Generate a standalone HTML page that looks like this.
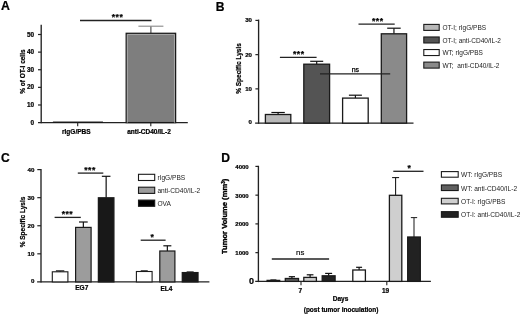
<!DOCTYPE html>
<html><head><meta charset="utf-8"><style>
html,body{margin:0;padding:0;background:#fff;width:520px;height:315px;overflow:hidden}
svg{display:block;will-change:transform;filter:blur(0.3px)}
text{font-family:"Liberation Sans", sans-serif}
</style></head><body>
<svg width="520" height="315" viewBox="0 0 520 315">
<rect width="520" height="315" fill="#fff"/>
<text x="0.9" y="9.6" font-size="12.3" font-weight="bold" text-anchor="start" fill="#000" stroke="#000" stroke-width="0.22">A</text>
<line x1="41.2" y1="24.8" x2="41.2" y2="123.3" stroke="#222" stroke-width="1.35"/>
<line x1="38" y1="122.6" x2="187.8" y2="122.6" stroke="#222" stroke-width="1.35"/>
<line x1="38" y1="104.98" x2="41.2" y2="104.98" stroke="#222" stroke-width="1.2"/>
<line x1="38" y1="87.36" x2="41.2" y2="87.36" stroke="#222" stroke-width="1.2"/>
<line x1="38" y1="69.74" x2="41.2" y2="69.74" stroke="#222" stroke-width="1.2"/>
<line x1="38" y1="52.12" x2="41.2" y2="52.12" stroke="#222" stroke-width="1.2"/>
<line x1="38" y1="34.5" x2="41.2" y2="34.5" stroke="#222" stroke-width="1.2"/>
<text x="34.0" y="124.6" font-size="6.4" font-weight="bold" text-anchor="end" fill="#000" stroke="#000" stroke-width="0.22">0</text>
<text x="34.0" y="106.98" font-size="6.4" font-weight="bold" text-anchor="end" fill="#000" stroke="#000" stroke-width="0.22">10</text>
<text x="34.0" y="89.36" font-size="6.4" font-weight="bold" text-anchor="end" fill="#000" stroke="#000" stroke-width="0.22">20</text>
<text x="34.0" y="71.74" font-size="6.4" font-weight="bold" text-anchor="end" fill="#000" stroke="#000" stroke-width="0.22">30</text>
<text x="34.0" y="54.12" font-size="6.4" font-weight="bold" text-anchor="end" fill="#000" stroke="#000" stroke-width="0.22">40</text>
<text x="34.0" y="36.5" font-size="6.4" font-weight="bold" text-anchor="end" fill="#000" stroke="#000" stroke-width="0.22">50</text>
<text x="24.7" y="71.6" font-size="6.5" font-weight="bold" text-anchor="middle" fill="#000" stroke="#000" stroke-width="0.22" transform="rotate(-90 24.7 71.6)">% of OT-I cells</text>
<rect x="53.2" y="121.9" width="49.5" height="0.7" fill="#111" stroke="#1a1a1a" stroke-width="0.6"/>
<line x1="150.9" y1="33.3" x2="150.9" y2="26.2" stroke="#444" stroke-width="1.1"/>
<line x1="138.4" y1="26.2" x2="163.4" y2="26.2" stroke="#888" stroke-width="1.1"/>
<rect x="126.2" y="33.3" width="49.4" height="89.3" fill="#7e7e7e" stroke="#1a1a1a" stroke-width="1.3"/>
<path d="M127.35 122.6V34.45H174.45V122.6" fill="none" stroke="#a8a8a8" stroke-width="1"/>
<line x1="77.7" y1="122.6" x2="77.7" y2="126.2" stroke="#222" stroke-width="1.1"/>
<line x1="150.8" y1="122.6" x2="150.8" y2="126.2" stroke="#222" stroke-width="1.1"/>
<text x="76.3" y="134.0" font-size="6.5" font-weight="bold" text-anchor="middle" fill="#000" stroke="#000" stroke-width="0.22">rIgG/PBS</text>
<text x="149" y="134.0" font-size="6.5" font-weight="bold" text-anchor="middle" fill="#000" stroke="#000" stroke-width="0.22">anti-CD40/IL-2</text>
<line x1="80" y1="20.5" x2="151.5" y2="20.5" stroke="#222" stroke-width="1.3"/>
<text x="117.55" y="19.7" font-size="8.6" font-weight="bold" text-anchor="middle" fill="#000" stroke="#000" stroke-width="0.22" letter-spacing="0.5">***</text>
<text x="215.8" y="10.8" font-size="12.1" font-weight="bold" text-anchor="start" fill="#000" stroke="#000" stroke-width="0.22">B</text>
<line x1="258.6" y1="19.6" x2="258.6" y2="123.8" stroke="#222" stroke-width="1.35"/>
<line x1="255.1" y1="123.1" x2="413.5" y2="123.1" stroke="#222" stroke-width="1.35"/>
<line x1="255.4" y1="88.87" x2="258.6" y2="88.87" stroke="#222" stroke-width="1.2"/>
<line x1="255.4" y1="54.64" x2="258.6" y2="54.64" stroke="#222" stroke-width="1.2"/>
<line x1="255.4" y1="20.41" x2="258.6" y2="20.41" stroke="#222" stroke-width="1.2"/>
<text x="252.0" y="124.1" font-size="6.1" font-weight="bold" text-anchor="end" fill="#000" stroke="#000" stroke-width="0.22">0</text>
<text x="252.0" y="90.77" font-size="6.1" font-weight="bold" text-anchor="end" fill="#000" stroke="#000" stroke-width="0.22">10</text>
<text x="252.0" y="56.54" font-size="6.1" font-weight="bold" text-anchor="end" fill="#000" stroke="#000" stroke-width="0.22">20</text>
<text x="252.0" y="22.31" font-size="6.1" font-weight="bold" text-anchor="end" fill="#000" stroke="#000" stroke-width="0.22">30</text>
<text x="241.2" y="68.5" font-size="6.5" font-weight="bold" text-anchor="middle" fill="#000" stroke="#000" stroke-width="0.22" transform="rotate(-90 241.2 68.5)">% Specific Lysis</text>
<line x1="278.1" y1="114.5" x2="278.1" y2="112.5" stroke="#111" stroke-width="1.2"/>
<line x1="271.4" y1="112.5" x2="284.8" y2="112.5" stroke="#111" stroke-width="1.2"/>
<rect x="265.4" y="114.5" width="25.4" height="8.6" fill="#b8b8b8" stroke="#1a1a1a" stroke-width="1.3"/>
<line x1="316.7" y1="64.2" x2="316.7" y2="61.3" stroke="#111" stroke-width="1.2"/>
<line x1="310.2" y1="61.3" x2="323.2" y2="61.3" stroke="#111" stroke-width="1.2"/>
<rect x="303.8" y="64.2" width="25.8" height="58.9" fill="#545454" stroke="#1a1a1a" stroke-width="1.3"/>
<line x1="355.4" y1="98.1" x2="355.4" y2="95.2" stroke="#111" stroke-width="1.2"/>
<line x1="348.9" y1="95.2" x2="361.9" y2="95.2" stroke="#111" stroke-width="1.2"/>
<rect x="342.6" y="98.1" width="25.6" height="25.0" fill="#fff" stroke="#1a1a1a" stroke-width="1.3"/>
<line x1="393.95" y1="33.8" x2="393.95" y2="28.2" stroke="#111" stroke-width="1.2"/>
<line x1="387.2" y1="28.2" x2="400.7" y2="28.2" stroke="#111" stroke-width="1.2"/>
<rect x="381.3" y="33.8" width="25.3" height="89.3" fill="#8a8a8a" stroke="#1a1a1a" stroke-width="1.3"/>
<line x1="279.9" y1="57.3" x2="316.6" y2="57.3" stroke="#222" stroke-width="1.3"/>
<text x="298.75" y="56.7" font-size="8.6" font-weight="bold" text-anchor="middle" fill="#000" stroke="#000" stroke-width="0.22" letter-spacing="0.5">***</text>
<line x1="320" y1="73.8" x2="390.2" y2="73.8" stroke="#222" stroke-width="1.3"/>
<text x="355.4" y="71.8" font-size="7" font-weight="normal" text-anchor="middle" fill="#000" stroke="#000" stroke-width="0.25">ns</text>
<line x1="358.5" y1="24.2" x2="394.7" y2="24.2" stroke="#222" stroke-width="1.3"/>
<text x="377.75" y="23.9" font-size="8.6" font-weight="bold" text-anchor="middle" fill="#000" stroke="#000" stroke-width="0.22" letter-spacing="0.5">***</text>
<rect x="423.8" y="24.4" width="15.4" height="6.0" fill="#b8b8b8" stroke="#1a1a1a" stroke-width="1.1"/>
<text x="442.4" y="30.3" font-size="6.5" font-weight="normal" text-anchor="start" fill="#222">OT-I; rIgG/PBS</text>
<rect x="423.8" y="36.97" width="15.4" height="6.0" fill="#545454" stroke="#1a1a1a" stroke-width="1.1"/>
<text x="442.4" y="42.87" font-size="6.5" font-weight="normal" text-anchor="start" fill="#222">OT-I; anti-CD40/IL-2</text>
<rect x="423.8" y="49.54" width="15.4" height="6.0" fill="#fff" stroke="#1a1a1a" stroke-width="1.1"/>
<text x="442.4" y="55.44" font-size="6.5" font-weight="normal" text-anchor="start" fill="#222">WT; rIgG/PBS</text>
<rect x="423.8" y="62.11" width="15.4" height="6.0" fill="#8a8a8a" stroke="#1a1a1a" stroke-width="1.1"/>
<text x="442.4" y="68.01" font-size="6.5" font-weight="normal" text-anchor="start" fill="#222">WT;&#160; anti-CD40/IL-2</text>
<text x="0.9" y="161.9" font-size="12.1" font-weight="bold" text-anchor="start" fill="#000" stroke="#000" stroke-width="0.22">C</text>
<line x1="41.0" y1="168.9" x2="41.0" y2="282.6" stroke="#222" stroke-width="1.35"/>
<line x1="37.1" y1="281.9" x2="209.4" y2="281.9" stroke="#222" stroke-width="1.35"/>
<line x1="37.3" y1="253.82" x2="41.0" y2="253.82" stroke="#222" stroke-width="1.2"/>
<line x1="37.3" y1="225.75" x2="41.0" y2="225.75" stroke="#222" stroke-width="1.2"/>
<line x1="37.3" y1="197.67" x2="41.0" y2="197.67" stroke="#222" stroke-width="1.2"/>
<line x1="37.3" y1="169.6" x2="41.0" y2="169.6" stroke="#222" stroke-width="1.2"/>
<text x="34.4" y="283.0" font-size="6.2" font-weight="bold" text-anchor="end" fill="#000" stroke="#000" stroke-width="0.22">0</text>
<text x="34.4" y="255.92" font-size="6.2" font-weight="bold" text-anchor="end" fill="#000" stroke="#000" stroke-width="0.22">10</text>
<text x="34.4" y="227.85" font-size="6.2" font-weight="bold" text-anchor="end" fill="#000" stroke="#000" stroke-width="0.22">20</text>
<text x="34.4" y="199.77" font-size="6.2" font-weight="bold" text-anchor="end" fill="#000" stroke="#000" stroke-width="0.22">30</text>
<text x="34.4" y="171.7" font-size="6.2" font-weight="bold" text-anchor="end" fill="#000" stroke="#000" stroke-width="0.22">40</text>
<text x="25.4" y="222" font-size="6.5" font-weight="bold" text-anchor="middle" fill="#000" stroke="#000" stroke-width="0.22" transform="rotate(-90 25.4 222)">% Specific Lysis</text>
<line x1="60.1" y1="271.8" x2="60.1" y2="270.9" stroke="#111" stroke-width="1.2"/>
<line x1="55.9" y1="270.9" x2="64.3" y2="270.9" stroke="#111" stroke-width="1.2"/>
<rect x="52.3" y="271.8" width="15.6" height="10.1" fill="#fff" stroke="#1a1a1a" stroke-width="1.1"/>
<line x1="83.35" y1="227.4" x2="83.35" y2="222.0" stroke="#111" stroke-width="1.2"/>
<line x1="79.0" y1="222.0" x2="87.7" y2="222.0" stroke="#111" stroke-width="1.2"/>
<rect x="75.6" y="227.4" width="15.5" height="54.5" fill="#9c9c9c" stroke="#1a1a1a" stroke-width="1.2"/>
<line x1="106.15" y1="197.8" x2="106.15" y2="176.3" stroke="#111" stroke-width="1.2"/>
<line x1="101.85" y1="176.3" x2="110.45" y2="176.3" stroke="#111" stroke-width="1.2"/>
<rect x="98.4" y="197.8" width="15.5" height="84.1" fill="#181818" stroke="#1a1a1a" stroke-width="1.3"/>
<line x1="144.25" y1="271.5" x2="144.25" y2="270.9" stroke="#111" stroke-width="1.2"/>
<line x1="140.75" y1="270.9" x2="147.75" y2="270.9" stroke="#111" stroke-width="1.2"/>
<rect x="136.4" y="271.5" width="15.7" height="10.4" fill="#fff" stroke="#1a1a1a" stroke-width="1.1"/>
<line x1="167.35" y1="251.0" x2="167.35" y2="245.8" stroke="#111" stroke-width="1.2"/>
<line x1="163.35" y1="245.8" x2="171.35" y2="245.8" stroke="#111" stroke-width="1.2"/>
<rect x="159.8" y="251.0" width="15.1" height="30.9" fill="#9c9c9c" stroke="#1a1a1a" stroke-width="1.2"/>
<line x1="190.15" y1="272.6" x2="190.15" y2="272.0" stroke="#111" stroke-width="1.2"/>
<line x1="186.65" y1="272.0" x2="193.65" y2="272.0" stroke="#111" stroke-width="1.2"/>
<rect x="182.3" y="272.6" width="15.7" height="9.3" fill="#181818" stroke="#1a1a1a" stroke-width="1.3"/>
<text x="81.8" y="289.8" font-size="6.5" font-weight="bold" text-anchor="middle" fill="#000" stroke="#000" stroke-width="0.22">EG7</text>
<text x="166.4" y="291.3" font-size="6.5" font-weight="bold" text-anchor="middle" fill="#000" stroke="#000" stroke-width="0.22">EL4</text>
<line x1="54.6" y1="217.4" x2="80.8" y2="217.4" stroke="#222" stroke-width="1.3"/>
<text x="67.45" y="217.2" font-size="8.6" font-weight="bold" text-anchor="middle" fill="#000" stroke="#000" stroke-width="0.22" letter-spacing="0.5">***</text>
<line x1="77.8" y1="173.1" x2="103.3" y2="173.1" stroke="#222" stroke-width="1.3"/>
<text x="90.05" y="173.1" font-size="8.6" font-weight="bold" text-anchor="middle" fill="#000" stroke="#000" stroke-width="0.22" letter-spacing="0.5">***</text>
<line x1="140.7" y1="240.2" x2="165.6" y2="240.2" stroke="#222" stroke-width="1.3"/>
<text x="152.2" y="239.9" font-size="8.6" font-weight="bold" text-anchor="middle" fill="#000" stroke="#000" stroke-width="0.22">*</text>
<rect x="138.5" y="174.3" width="16.2" height="6.2" fill="#fff" stroke="#1a1a1a" stroke-width="1.1"/>
<text x="157.4" y="179.8" font-size="6.6" font-weight="normal" text-anchor="start" fill="#222">rIgG/PBS</text>
<rect x="138.5" y="187.2" width="16.2" height="6.2" fill="#9c9c9c" stroke="#1a1a1a" stroke-width="1.1"/>
<text x="157.4" y="192.7" font-size="6.6" font-weight="normal" text-anchor="start" fill="#222">anti-CD40/IL-2</text>
<rect x="138.5" y="200.1" width="16.2" height="6.2" fill="#000" stroke="#1a1a1a" stroke-width="1.1"/>
<text x="157.4" y="205.6" font-size="6.6" font-weight="normal" text-anchor="start" fill="#222">OVA</text>
<text x="221.2" y="162.0" font-size="12.1" font-weight="bold" text-anchor="start" fill="#000" stroke="#000" stroke-width="0.22">D</text>
<line x1="258.4" y1="165.8" x2="258.4" y2="282.1" stroke="#222" stroke-width="1.35"/>
<line x1="255.2" y1="281.4" x2="430.9" y2="281.4" stroke="#222" stroke-width="1.35"/>
<line x1="255.4" y1="252.65" x2="258.4" y2="252.65" stroke="#222" stroke-width="1.2"/>
<line x1="255.4" y1="223.9" x2="258.4" y2="223.9" stroke="#222" stroke-width="1.2"/>
<line x1="255.4" y1="195.15" x2="258.4" y2="195.15" stroke="#222" stroke-width="1.2"/>
<line x1="255.4" y1="166.4" x2="258.4" y2="166.4" stroke="#222" stroke-width="1.2"/>
<text x="248.7" y="255.05" font-size="6.0" font-weight="bold" text-anchor="end" fill="#000" stroke="#000" stroke-width="0.22">1000</text>
<text x="248.7" y="226.3" font-size="6.0" font-weight="bold" text-anchor="end" fill="#000" stroke="#000" stroke-width="0.22">2000</text>
<text x="248.7" y="197.55" font-size="6.0" font-weight="bold" text-anchor="end" fill="#000" stroke="#000" stroke-width="0.22">3000</text>
<text x="248.7" y="168.8" font-size="6.0" font-weight="bold" text-anchor="end" fill="#000" stroke="#000" stroke-width="0.22">4000</text>
<text x="253.9" y="284.1" font-size="9" font-weight="bold" text-anchor="end" fill="#000" stroke="#000" stroke-width="0.22">0</text>
<text x="227.0" y="216.4" font-size="7.6" font-weight="bold" text-anchor="middle" fill="#000" stroke="#000" stroke-width="0.35" transform="rotate(-90 227.0 216.4)">Tumor Volume (mm<tspan dy="-2.3" font-size="4.6">3</tspan><tspan dy="2.3">)</tspan></text>
<line x1="301" y1="281.4" x2="301" y2="285.2" stroke="#222" stroke-width="1.1"/>
<line x1="386.8" y1="281.4" x2="386.8" y2="285.2" stroke="#222" stroke-width="1.1"/>
<text x="300.4" y="293.1" font-size="6.5" font-weight="bold" text-anchor="middle" fill="#000" stroke="#000" stroke-width="0.22">7</text>
<text x="385.5" y="293.1" font-size="6.5" font-weight="bold" text-anchor="middle" fill="#000" stroke="#000" stroke-width="0.22">19</text>
<text x="340.5" y="301.3" font-size="6.5" font-weight="bold" text-anchor="middle" fill="#000" stroke="#000" stroke-width="0.22">Days</text>
<text x="341.1" y="311.9" font-size="6.5" font-weight="bold" text-anchor="middle" fill="#000" stroke="#000" stroke-width="0.22">(post tumor inoculation)</text>
<line x1="273.4" y1="280.4" x2="273.4" y2="280" stroke="#111" stroke-width="1.2"/>
<line x1="270.4" y1="280" x2="276.4" y2="280" stroke="#111" stroke-width="1.2"/>
<rect x="267.1" y="280.4" width="12.6" height="1.0" fill="#fff" stroke="#1a1a1a" stroke-width="1.3"/>
<line x1="291.9" y1="278.5" x2="291.9" y2="276.7" stroke="#111" stroke-width="1.2"/>
<line x1="288.8" y1="276.7" x2="295.0" y2="276.7" stroke="#111" stroke-width="1.2"/>
<rect x="285.3" y="278.5" width="13.2" height="2.9" fill="#606060" stroke="#1a1a1a" stroke-width="1.3"/>
<line x1="310.1" y1="277.4" x2="310.1" y2="274.8" stroke="#111" stroke-width="1.2"/>
<line x1="306.75" y1="274.8" x2="313.45" y2="274.8" stroke="#111" stroke-width="1.2"/>
<rect x="303.8" y="277.4" width="12.6" height="4.0" fill="#cfcfcf" stroke="#1a1a1a" stroke-width="1.3"/>
<line x1="328.65" y1="275.8" x2="328.65" y2="273.4" stroke="#111" stroke-width="1.2"/>
<line x1="325.15" y1="273.4" x2="332.15" y2="273.4" stroke="#111" stroke-width="1.2"/>
<rect x="322.2" y="275.8" width="12.9" height="5.6" fill="#222" stroke="#1a1a1a" stroke-width="1.3"/>
<line x1="359.1" y1="270" x2="359.1" y2="267.3" stroke="#111" stroke-width="1.2"/>
<line x1="356.1" y1="267.3" x2="362.1" y2="267.3" stroke="#111" stroke-width="1.2"/>
<rect x="352.8" y="270" width="12.6" height="11.4" fill="#fff" stroke="#1a1a1a" stroke-width="1.3"/>
<line x1="395.6" y1="195.3" x2="395.6" y2="177.6" stroke="#111" stroke-width="1.05"/>
<line x1="392.1" y1="177.6" x2="399.1" y2="177.6" stroke="#111" stroke-width="1.05"/>
<rect x="389.4" y="195.3" width="12.4" height="86.1" fill="#cfcfcf" stroke="#1a1a1a" stroke-width="1.3"/>
<line x1="414.0" y1="237.0" x2="414.0" y2="217.6" stroke="#222" stroke-width="1.05"/>
<line x1="410.85" y1="217.6" x2="417.15" y2="217.6" stroke="#222" stroke-width="1.05"/>
<rect x="407.7" y="237.0" width="12.6" height="44.4" fill="#222" stroke="#1a1a1a" stroke-width="1.3"/>
<line x1="271.8" y1="259" x2="329.1" y2="259" stroke="#222" stroke-width="1.3"/>
<text x="300.2" y="255.4" font-size="7.8" font-weight="normal" text-anchor="middle" fill="#000" stroke="#000" stroke-width="0.15">ns</text>
<line x1="393.3" y1="171.3" x2="423.5" y2="171.3" stroke="#222" stroke-width="1.3"/>
<text x="409.2" y="171.0" font-size="8.6" font-weight="bold" text-anchor="middle" fill="#000" stroke="#000" stroke-width="0.22">*</text>
<rect x="441.4" y="171.6" width="16.8" height="5.6" fill="#fff" stroke="#1a1a1a" stroke-width="1.1"/>
<text x="461.0" y="177.4" font-size="6.6" font-weight="normal" text-anchor="start" fill="#222">WT: rIgG/PBS</text>
<rect x="441.4" y="184.95" width="16.8" height="5.6" fill="#606060" stroke="#1a1a1a" stroke-width="1.1"/>
<text x="461.0" y="190.75" font-size="6.6" font-weight="normal" text-anchor="start" fill="#222">WT: anti-CD40/IL-2</text>
<rect x="441.4" y="198.3" width="16.8" height="5.6" fill="#cfcfcf" stroke="#1a1a1a" stroke-width="1.1"/>
<text x="461.0" y="204.1" font-size="6.6" font-weight="normal" text-anchor="start" fill="#222">OT-I: rIgG/PBS</text>
<rect x="441.4" y="211.65" width="16.8" height="5.6" fill="#222" stroke="#1a1a1a" stroke-width="1.1"/>
<text x="461.0" y="217.45" font-size="6.6" font-weight="normal" text-anchor="start" fill="#222">OT-I: anti-CD40/IL-2</text>
</svg>
</body></html>
